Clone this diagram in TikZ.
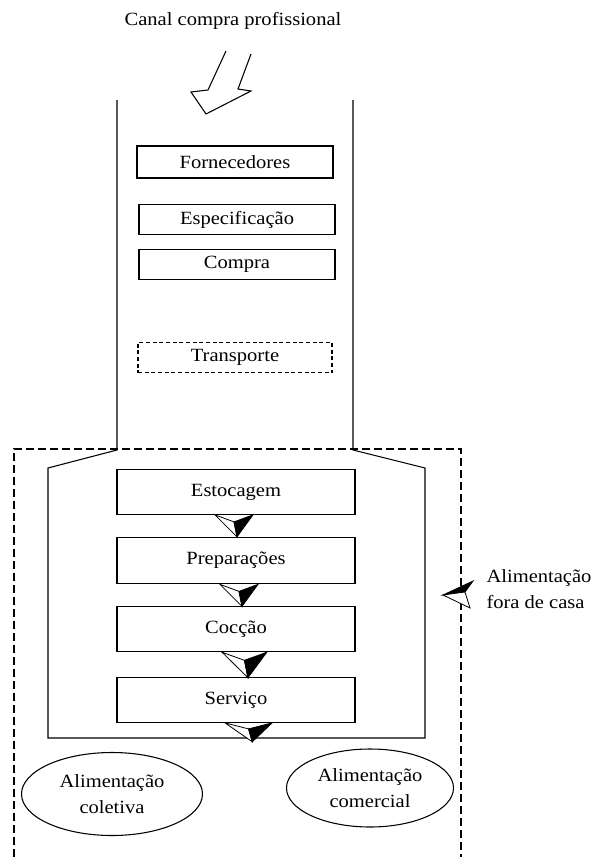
\documentclass[tikz,border=0pt]{standalone}
\usepackage{fontspec}
\setmainfont{Liberation Serif}[FakeStretch=1.1]
\usetikzlibrary{shapes.geometric}

\tikzset{
  caixa/.style={draw,rectangle,inner sep=0pt},
  cima/.style={caixa,minimum width=147pt,minimum height=22.5pt},
  baixo/.style={caixa,minimum width=178.5pt,minimum height=34pt},
  balao/.style={draw,ellipse,align=center,inner sep=0pt},
  seta3d/.pic={
    \draw[line width=0.6pt,fill=white] (0,0) -- (19,7) -- (22,22) -- cycle;
    \filldraw[line width=0.6pt] (19,7) -- (38,0) -- (22,22) -- cycle;
  }
}

\begin{document}
\begin{tikzpicture}[x=0.75pt,y=-0.75pt,line width=0.8pt,font=\fontsize{14}{19.5}\selectfont]
        \useasboundingbox (0,0) rectangle (592,857);
        % canal de compra
        \node (canal) at (233,21) {Canal compra profissional};
        \draw (251,54) -- (238,89) -- (251,91) -- (206,114) -- (191,92) -- (208,90) -- (226,51);
        \draw (117,100) -- (117,450) -- (48,468) -- (48,738) -- (425,738) -- (425,468) -- (353,450) -- (353,100);
        \draw[dash pattern=on 6pt off 3pt] (14,857) -- (14,449) -- (461,449) -- (461,857);

        \node[cima,minimum height=24pt] (forn) at (235,162) {Fornecedores};
        \node[cima] (espec) at (237,219.5) {Especificação};
        \node[cima] (compra) at (237,264.5) {Compra};
        \node[cima,minimum width=145.5pt,minimum height=23pt,dash pattern=on 3pt off 2pt] (transp) at (235,357.5) {Transporte};

        % etapas
        \node[baixo,minimum height=33.5pt] (estoc) at (236,492) {Estocagem};
        \node[baixo,minimum height=35pt] (prep) at (236,560.5) {Preparações};
        \node[baixo] (coccao) at (236,629) {Cocção};
        \node[baixo,minimum height=33.5pt] (servico) at (236,700) {Serviço};

        \path (estoc.south) ++(-21,0) pic {seta3d};
        \path (prep.south) ++(-16,0) pic {seta3d};
        \path (coccao.south) ++(-14,0) pic[xscale=1.18,yscale=1.16] {seta3d};
        \path (servico.south) ++(-11,0) pic[xscale=1.24,yscale=0.86] {seta3d};

        % fora de casa
        \filldraw[line width=0.6pt] (443,595) -- (473,581) -- (465,592) -- cycle;
        \draw[line width=0.6pt,fill=white] (443,595) -- (465,592) -- (470,608) -- cycle;
        \node[anchor=west,align=left,inner sep=0pt] (fora) at (486,589) {Alimentação\\fora de casa};

        \node[balao,minimum width=135.75pt,minimum height=62.25pt] (coletiva) at (112,794) {Alimentação\\coletiva};
        \node[balao,minimum width=125.25pt,minimum height=58.5pt] (comercial) at (370,788) {Alimentação\\comercial};
    \end{tikzpicture}
\end{document}
